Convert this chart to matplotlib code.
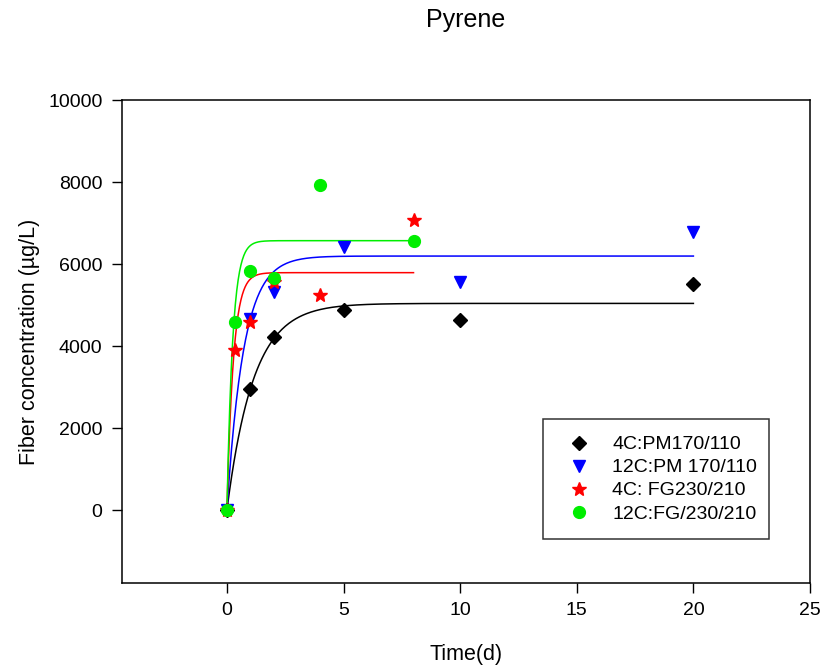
import numpy as np
import matplotlib
matplotlib.use("Agg")
import matplotlib.pyplot as plt

plt.rcParams['font.family'] = ['Liberation Sans', 'DejaVu Sans']

# datos (tiempo en dias, concentracion en ug/L)
t_4c_pm = [0, 1, 2, 5, 10, 20]
c_4c_pm = [0, 2950, 4220, 4880, 4630, 5520]

t_12c_pm = [0, 1, 2, 5, 10, 20]
c_12c_pm = [0, 4660, 5320, 6410, 5560, 6780]

t_4c_fg = [0, 0.33, 1, 2, 4, 8]
c_4c_fg = [0, 3900, 4590, 5570, 5240, 7070]

t_12c_fg = [0, 0.33, 1, 2, 4, 8]
c_12c_fg = [0, 4590, 5830, 5650, 7930, 6560]

# parametros del ajuste y = a*(1-exp(-b*t)), y tiempo final de cada curva
fit_a = [5040, 6195, 5790, 6570]
fit_b = [0.88, 1.39, 3.6, 4.0]
fit_tmax = [20, 20, 8, 8]

etiquetas = ['4C:PM170/110', '12C:PM 170/110', '4C: FG230/210', '12C:FG/230/210']
colores = ['black', 'blue', 'red', '#00ee00']
marcadores = ['D', 'v', '*', 'o']
tamanos = [7.5, 9, 10, 8.5]

fig = plt.figure(figsize=(8.23, 6.67), dpi=100)
ax = fig.add_axes([0.1482, 0.1259, 0.836, 0.7241])

datos = [(t_4c_pm, c_4c_pm), (t_12c_pm, c_12c_pm), (t_4c_fg, c_4c_fg), (t_12c_fg, c_12c_fg)]

for i in range(4):
    t, c = datos[i]
    ax.plot(t, c, linestyle='none', marker=marcadores[i], ms=tamanos[i],
            color=colores[i], label=etiquetas[i], zorder=3)
    tt = np.linspace(0, fit_tmax[i], 400)
    ax.plot(tt, fit_a[i]*(1-np.exp(-fit_b[i]*tt)), '-', color=colores[i], lw=1.1, zorder=2)

ax.set_xlim(-4.5, 25)
ax.set_ylim(-1780, 10000)
ax.set_xticks([0, 5, 10, 15, 20, 25])
ax.set_yticks([0, 2000, 4000, 6000, 8000, 10000])
ax.tick_params(direction='out', length=7, width=1, labelsize=14, pad=7)
for s in ax.spines.values():
    s.set_linewidth(1.1)

ax.set_xlabel('Time(d)', fontsize=15.5, labelpad=18)
ax.set_ylabel('Fiber concentration (µg/L)', fontsize=15.5, labelpad=6)
fig.text(0.566, 0.97, 'Pyrene', fontsize=18, ha='center', va='center')

leg = ax.legend(loc='lower left', bbox_to_anchor=(0.612, 0.091, 0.328, 0.253), mode='expand',
                fontsize=14, frameon=True, fancybox=False, edgecolor='black',
                handletextpad=0.7, labelspacing=0.28, borderpad=0.85, borderaxespad=0)
leg.get_frame().set_linewidth(1.1)

fig.savefig('out.png', dpi=100)
